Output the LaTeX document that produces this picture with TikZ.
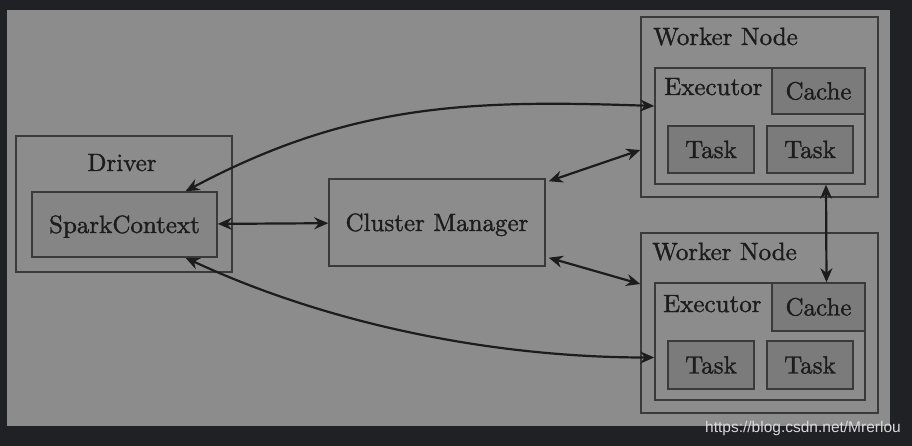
\documentclass[tikz,border=0pt]{standalone}
\usepackage{fontspec}
\setsansfont{Liberation Sans}
\newfontfamily\diagfont{lmroman10-regular.otf}[FakeBold=1.3]
\usetikzlibrary{arrows.meta}
\definecolor{frame}{HTML}{202124}
\definecolor{panel}{HTML}{8C8C8C}
\definecolor{inner}{HTML}{858585}
\definecolor{dark}{HTML}{7B7B7B}
\definecolor{edge}{HTML}{3A3A3A}
\definecolor{ink}{HTML}{1C1C1C}
\definecolor{wm}{HTML}{D8D8D8}
\tikzset{>={Stealth[length=14pt,width=12pt]}}
\tikzset{box/.style={draw=edge,line width=1.5pt,rectangle,inner sep=0pt}}
\tikzset{txt/.style={text=ink,font=\diagfont\fontsize{25}{30}\selectfont,inner sep=0pt,text height=17pt,text depth=0pt}}
\tikzset{link/.style={<->,draw=ink,line width=2.2pt}}

\begin{document}
\begin{tikzpicture}[x=1pt,y=-1pt]
  \useasboundingbox (0,0) rectangle (912,446);
  \fill[frame] (0,0) rectangle (912,446);
  \fill[panel] (7,10) rectangle (890,426);
  % driver side
  \node[box,minimum width=216pt,minimum height=136pt] (driver) at (124,204) {};
  \node[txt,anchor=base] (drivername) at (122,171) {Driver};
  \node[box,fill=inner,minimum width=185pt,minimum height=65pt,txt] (spark) at (124.5,224.5) {SparkContext};
  \node[box,minimum width=216pt,minimum height=87pt,txt] (cm) at (437,222.5) {Cluster Manager};
  % first worker
  \node[box,minimum width=237pt,minimum height=180pt] (w1) at (759.5,107) {};
  \node[txt,anchor=base west] (w1name) at (653,45) {Worker Node};
  \node[box,minimum width=210pt,minimum height=116pt] (ex1) at (760,126) {};
  \node[txt,anchor=base west] (ex1name) at (664,95) {Executor};
  \node[box,fill=dark,minimum width=93pt,minimum height=46pt,txt] (ca1) at (818.5,91) {Cache};
  \node[box,fill=dark,minimum width=86pt,minimum height=47pt,txt] (t1a) at (711,149.5) {Task};
  \node[box,fill=dark,minimum width=86pt,minimum height=47pt,txt] (t1b) at (810,149.5) {Task};
  % second worker
  \node[box,minimum width=237pt,minimum height=180pt] (w2) at (759.5,323) {};
  \node[txt,anchor=base west] (w2name) at (652,260) {Worker Node};
  \node[box,minimum width=210pt,minimum height=117pt] (ex2) at (760,341.5) {};
  \node[txt,anchor=base west] (ex2name) at (663,312) {Executor};
  \node[box,fill=dark,minimum width=93pt,minimum height=48pt,txt] (ca2) at (818.5,307) {Cache};
  \node[box,fill=dark,minimum width=86pt,minimum height=48pt,txt] (t2a) at (711,365) {Task};
  \node[box,fill=dark,minimum width=86pt,minimum height=48pt,txt] (t2b) at (810,365) {Task};
  % connectors
  \draw[link] (spark) -- (cm);
  \draw[link] ([shift={(3,3)}]cm.north east) -- ([shift={(0,43)}]w1.west);
  \draw[link] ([shift={(3,-9)}]cm.south east) -- ([shift={(0,-39)}]w2.west);
  \draw[link] ([shift={(61,0)}]spark.north) to[out=28,in=178] ([shift={(0,-20)}]ex1.west);
  \draw[link] ([shift={(61,0)}]spark.south) to[out=-25,in=180,looseness=.85] ([shift={(0,16)}]ex2.west);
  \draw[link] ([shift={(66,0)}]ex1.south) -- ([shift={(8,0)}]ca2.north);
  \node[font=\sffamily\fontsize{15.5}{18}\selectfont,text=wm,anchor=base west,inner sep=0pt] (mark) at (705,432) {https://blog.csdn.net/Mrerlou};
\end{tikzpicture}
\end{document}
